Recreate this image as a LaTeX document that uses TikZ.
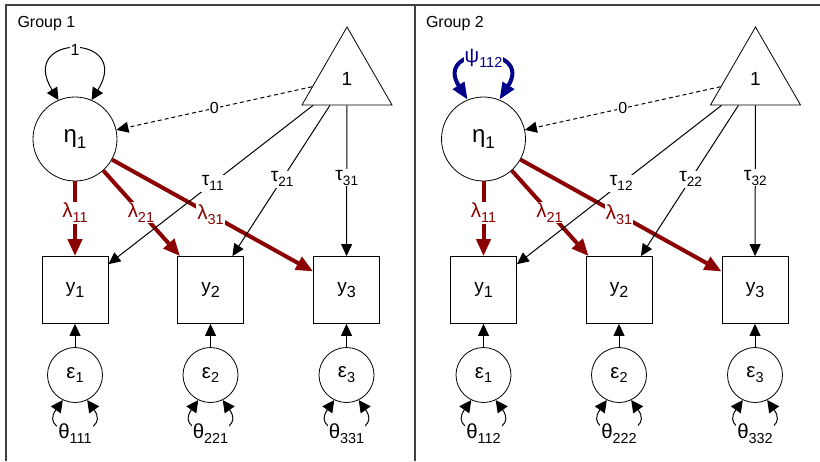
\documentclass[tikz,border=0pt]{standalone}
\usepackage{fontspec}
\usepackage{graphicx}
\setmainfont{Liberation Sans}
\usetikzlibrary{arrows.meta, shapes.geometric}
\definecolor{loadred}{RGB}{139,0,0}
\definecolor{varblue}{RGB}{0,0,139}
% Greek letters a little larger, indices large and low
\newcommand\gk[1]{\scalebox{1.2}{#1}}
\newcommand\idx[1]{\raisebox{-0.55ex}{\scalebox{0.85}{#1}}}

\begin{document}
\begin{tikzpicture}[x=1pt, y=-1pt,
  font=\fontsize{16}{19}\selectfont,
  lat/.style={draw, line width=0.8pt, circle, minimum size=84pt, inner sep=0pt, font=\fontsize{20}{24}\selectfont},
  obs/.style={draw, line width=0.8pt, rectangle, minimum width=66pt, minimum height=67pt, inner sep=0pt, font=\fontsize{19}{22}\selectfont},
  err/.style={draw, line width=0.8pt, circle, minimum size=55pt, inner sep=0pt, font=\fontsize{17}{20}\selectfont},
  cst/.style={draw, line width=0.8pt, regular polygon, regular polygon sides=3, minimum size=104pt, inner sep=0pt, font=\fontsize{19}{22}\selectfont},
  lbl/.style={fill=white, inner sep=1pt},
  thl/.style={fill=white, inner sep=1pt, font=\fontsize{17}{20}\selectfont},
  lml/.style={fill=white, inner sep=1pt, text=loadred, font=\fontsize{17}{20}\selectfont},
  ar/.style={-{Triangle[length=12pt, width=11pt]}, line width=1pt},
  dar/.style={{Triangle[length=12pt, width=12pt]}-{Triangle[length=12pt, width=12pt]}, line width=1pt},
  load/.style={-{Triangle[length=17pt, width=14pt]}, draw=loadred, line width=4pt},
  psi/.style={{Triangle[length=17pt, width=13pt]}-{Triangle[length=17pt, width=13pt]}, draw=varblue, line width=4pt},
  frame/.style={draw=black!75, line width=1.2pt}]

\useasboundingbox (0,0) rectangle (820,461);

% --- panel frame
\draw[frame] (5,5) -- (820,5);
\draw[frame] (6,5) -- (6,461);
\draw[frame, line width=2pt] (415,5) -- (415,461);

% --- group 1
\begin{scope}
\node[anchor=west] (g1title) at (14,24) {Group 1};
\node[lat] (g1eta) at (75,139) {\gk{η}\idx{1}};
\node[cst] (g1one) at (347,79) {1};
\node[obs] (g1y1) at (75,290) {y\idx{1}};
\node[obs] (g1y2) at (210.5,290) {y\idx{2}};
\node[obs] (g1y3) at (346.5,290) {y\idx{3}};
\node[err] (g1e1) at (75,375) {\gk{ε}\idx{1}};
\node[err] (g1e2) at (210.5,375) {\gk{ε}\idx{2}};
\node[err] (g1e3) at (346.5,375) {\gk{ε}\idx{3}};

\draw[dar] (g1eta.113) .. controls +(-42,-67) and +(42,-67) .. node[lbl, midway] {1} (g1eta.67);
\draw[ar, dashed, dash pattern=on 4pt off 3pt] (g1one) -- node[lbl, midway] {0} (g1eta);
% loadings
\draw[load] (g1eta) -- node[lml, pos=0.42] {\gk{λ}\idx{11}} (g1y1);
\draw[load] (g1eta) -- node[lml, pos=0.49] {\gk{λ}\idx{21}} (g1y2);
\draw[load] (g1eta) -- node[lml, pos=0.49] {\gk{λ}\idx{31}} (g1y3);
% intercepts
\draw[ar] (g1one) -- node[lbl, pos=0.49] {\gk{τ}\idx{11}} (g1y1);
\draw[ar] (g1one) -- node[lbl, pos=0.49] {\gk{τ}\idx{21}} (g1y2);
\draw[ar] (g1one) -- node[lbl, pos=0.48] {\gk{τ}\idx{31}} (g1y3);
% residuals
\draw[ar] (g1e1) -- (g1y1);
\draw[ar] (g1e2) -- (g1y2);
\draw[ar] (g1e3) -- (g1y3);
\draw[dar] (g1e1.-116) .. controls +(-27,38) and +(27,38) .. node[thl, midway, yshift=-5pt] {\gk{θ}\idx{111}} (g1e1.-64);
\draw[dar] (g1e2.-116) .. controls +(-27,38) and +(27,38) .. node[thl, midway, yshift=-5pt] {\gk{θ}\idx{221}} (g1e2.-64);
\draw[dar] (g1e3.-116) .. controls +(-27,38) and +(27,38) .. node[thl, midway, yshift=-5pt] {\gk{θ}\idx{331}} (g1e3.-64);
\end{scope}

% --- group 2 (same layout, shifted right)
\begin{scope}[xshift=408.5pt]
\node[anchor=west] (g2title) at (14,24) {Group 2};
\node[lat] (g2eta) at (75,139) {\gk{η}\idx{1}};
\node[cst] (g2one) at (347,79) {1};
\node[obs] (g2y1) at (75,290) {y\idx{1}};
\node[obs] (g2y2) at (210.5,290) {y\idx{2}};
\node[obs] (g2y3) at (346.5,290) {y\idx{3}};
\node[err] (g2e1) at (75,375) {\gk{ε}\idx{1}};
\node[err] (g2e2) at (210.5,375) {\gk{ε}\idx{2}};
\node[err] (g2e3) at (346.5,375) {\gk{ε}\idx{3}};

\draw[psi] (g2eta.112) .. controls +(-35,-55) and +(35,-55) .. node[lbl, midway, text=varblue, font=\fontsize{17}{20}\selectfont] {\gk{ψ}\idx{112}} (g2eta.68);
\draw[ar, dashed, dash pattern=on 4pt off 3pt] (g2one) -- node[lbl, midway] {0} (g2eta);
% loadings
\draw[load] (g2eta) -- node[lml, pos=0.42] {\gk{λ}\idx{11}} (g2y1);
\draw[load] (g2eta) -- node[lml, pos=0.49] {\gk{λ}\idx{21}} (g2y2);
\draw[load] (g2eta) -- node[lml, pos=0.49] {\gk{λ}\idx{31}} (g2y3);
% intercepts
\draw[ar] (g2one) -- node[lbl, pos=0.49] {\gk{τ}\idx{12}} (g2y1);
\draw[ar] (g2one) -- node[lbl, pos=0.49] {\gk{τ}\idx{22}} (g2y2);
\draw[ar] (g2one) -- node[lbl, pos=0.48] {\gk{τ}\idx{32}} (g2y3);
% residuals
\draw[ar] (g2e1) -- (g2y1);
\draw[ar] (g2e2) -- (g2y2);
\draw[ar] (g2e3) -- (g2y3);
\draw[dar] (g2e1.-116) .. controls +(-27,38) and +(27,38) .. node[thl, midway, yshift=-5pt] {\gk{θ}\idx{112}} (g2e1.-64);
\draw[dar] (g2e2.-116) .. controls +(-27,38) and +(27,38) .. node[thl, midway, yshift=-5pt] {\gk{θ}\idx{222}} (g2e2.-64);
\draw[dar] (g2e3.-116) .. controls +(-27,38) and +(27,38) .. node[thl, midway, yshift=-5pt] {\gk{θ}\idx{332}} (g2e3.-64);
\end{scope}
\end{tikzpicture}
\end{document}
